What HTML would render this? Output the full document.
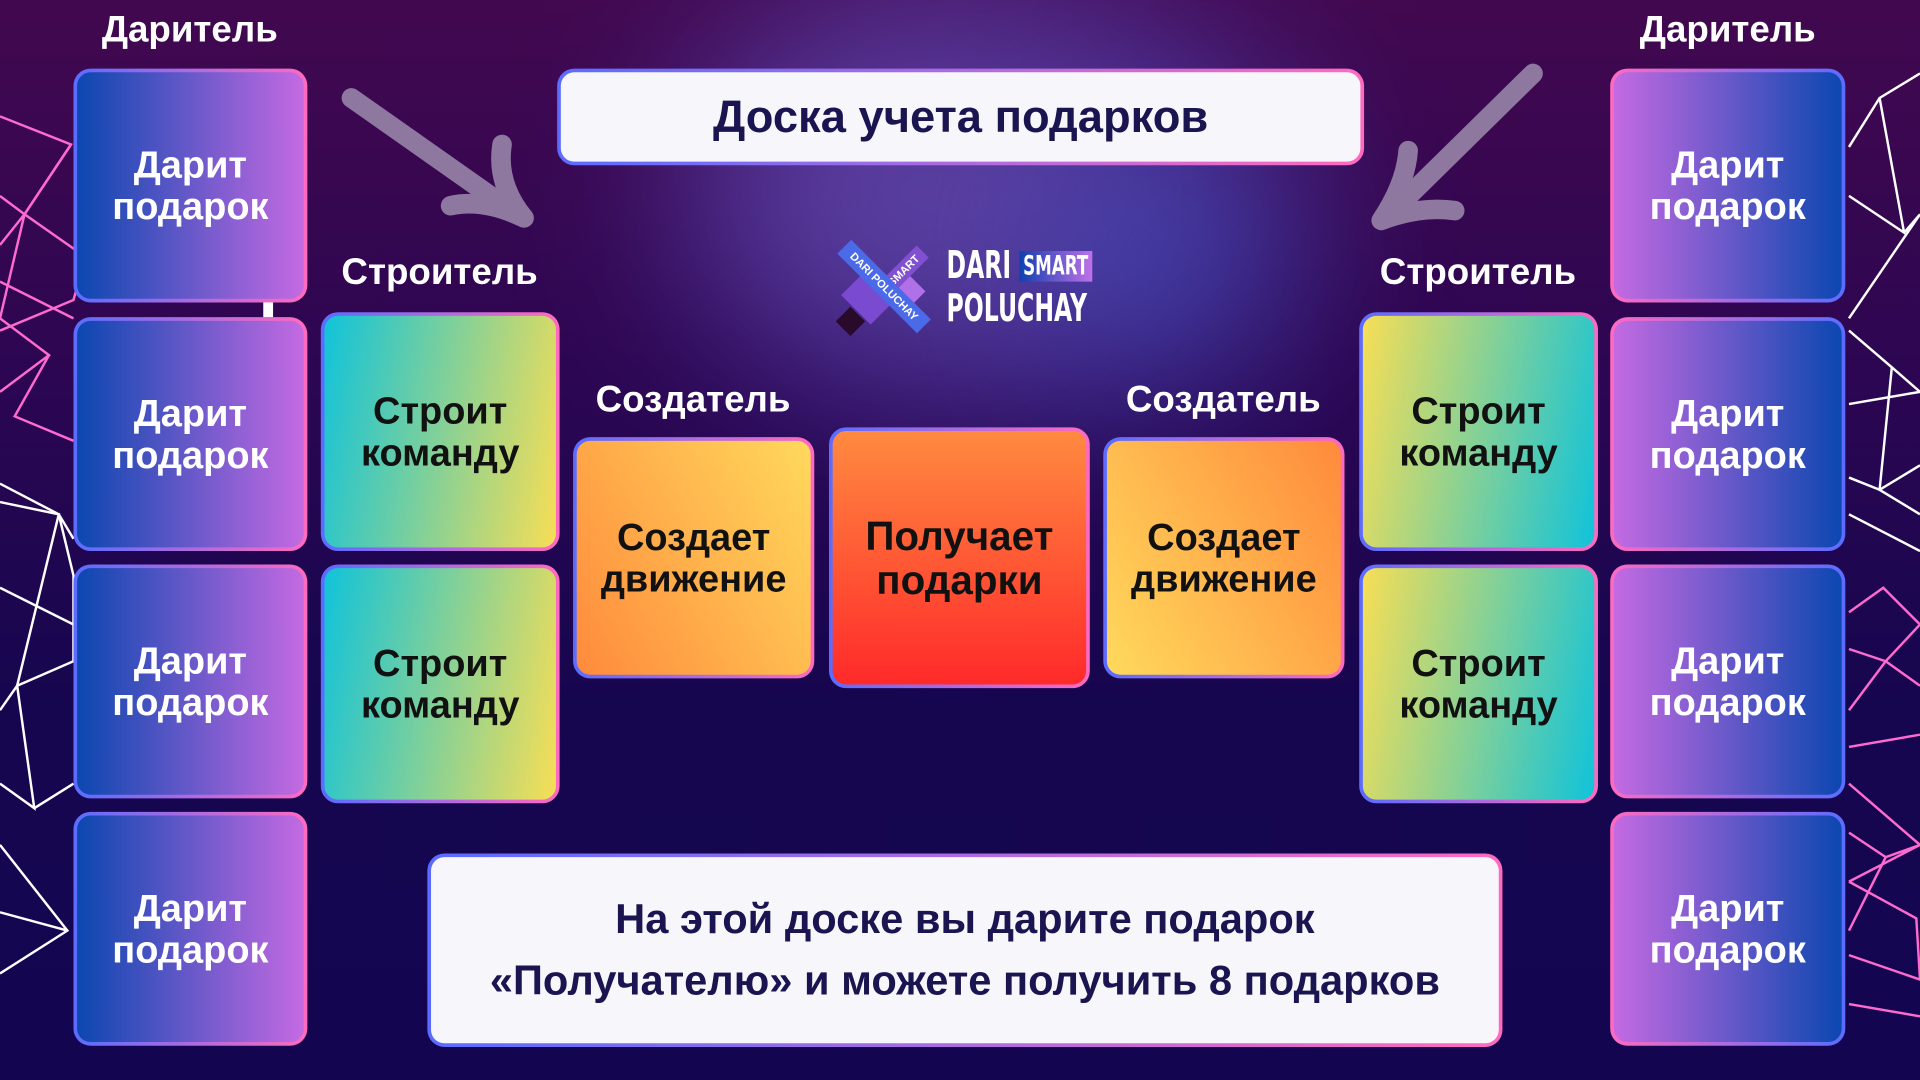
<!DOCTYPE html>
<html><head><meta charset="utf-8"><style>
html,body{margin:0;padding:0;width:1920px;height:1080px;overflow:hidden;background:#150650}
#w{position:absolute;left:0;top:0;width:1568px;height:882px;transform:scale(1.22449);transform-origin:0 0;
background:linear-gradient(180deg,#42084f 0%,#2c0652 35%,#16064f 65%,#130550 100%);font-family:"Liberation Sans",sans-serif;overflow:hidden}
.blob{position:absolute;border-radius:50%;filter:blur(70px)}
.b{position:absolute;box-sizing:border-box;border-radius:14px;padding:3px;}
.b>div{width:100%;height:100%;border-radius:11px;display:flex;align-items:center;justify-content:center;text-align:center;font-weight:bold;font-size:31px;line-height:34px}
.d1{background:linear-gradient(90deg,#5a6cff,#ff6ac0)}
.d1>div{background:linear-gradient(90deg,#0c47b0,#c46ae2);color:#fff}
.d2{background:linear-gradient(90deg,#ff6ac0,#5a6cff)}
.d2>div{background:linear-gradient(90deg,#c46ae2,#0c47b0);color:#fff}
.s1>div{background:linear-gradient(100deg,#10c3da,#f7de55);color:#111}
.s2>div{background:linear-gradient(100deg,#f7de55,#10c3da);color:#111}
.c1>div{background:linear-gradient(60deg,#ff8a3c,#ffd95c);color:#111}
.c2>div{background:linear-gradient(60deg,#ffd95c,#ff8a3c);color:#111}
.s1,.s2,.c1,.c2,.m{background:linear-gradient(90deg,#5a6cff,#ff6ac0)}
.m>div{background:linear-gradient(180deg,#ff8a40,#ff2a2a);color:#111;font-size:33px;line-height:36px}
.lab{position:absolute;color:#fff;font-weight:bold;font-size:30px;transform:translateX(-50%);white-space:nowrap}
.wb>div{background:#f6f6fb;color:#1a1450}
</style></head><body><div id="w">
<div class="blob" style="left:540px;top:-40px;width:520px;height:380px;background:#5a4ac0;opacity:.45"></div>
<div class="blob" style="left:600px;top:40px;width:320px;height:240px;background:#7a6ad0;opacity:.4"></div>
<div class="blob" style="left:850px;top:110px;width:200px;height:200px;background:#3a5ad0;opacity:.5"></div>
<svg style="position:absolute;left:0;top:0" width="1568" height="882" fill="none" stroke-width="2">
<g stroke="#ff6ad0"><polyline points="0,95 58,118 20,175 0,200"/><polyline points="58,118 20,175 0,160"/><polyline points="20,175 70,210 60,245 0,270"/><polyline points="20,175 0,260 40,290 0,320"/><polyline points="0,230 60,260"/><polyline points="40,290 12,340 60,360"/></g>
<g stroke="#fff"><polyline points="0,395 48,420 60,440"/><polyline points="0,410 48,420 14,560 0,580"/><polyline points="14,560 28,660 0,640"/><polyline points="14,560 60,540 60,470 48,420"/><polyline points="0,480 60,510"/><polyline points="28,660 60,640"/><polyline points="0,690 55,760 0,795"/><polyline points="0,745 55,760"/><polyline points="1510,120 1535,80 1568,60"/><polyline points="1535,80 1555,190 1510,160"/><polyline points="1555,190 1568,175 1510,260"/><polyline points="1510,270 1545,300 1568,320 1510,330"/><polyline points="1545,300 1535,400 1568,420"/><polyline points="1510,390 1535,400 1568,380"/><polyline points="1510,420 1568,450"/></g>
<g stroke="#ff6ad0"><polyline points="1510,500 1538,480 1568,510 1540,540 1510,530"/><polyline points="1540,540 1568,560"/><polyline points="1510,580 1540,540"/><polyline points="1510,610 1568,600"/><polyline points="1510,640 1568,690"/><polyline points="1510,680 1540,700 1568,690 1510,720"/><polyline points="1510,720 1565,750 1568,800 1510,780"/><polyline points="1540,700 1510,760"/><polyline points="1510,820 1568,830"/></g>
<g stroke="#8e78a0" stroke-width="16" stroke-linecap="round" stroke-linejoin="round"><line x1="287" y1="80" x2="422" y2="175"/><path d="M410 118 Q405 150 428 178 Q395 162 368 168"/><line x1="1252" y1="60" x2="1132" y2="178"/><path d="M1150 123 Q1148 150 1128 180 Q1160 168 1188 172"/></g>
</svg>
<div class="lab" style="left:155px;top:8px">Даритель</div>
<div class="lab" style="left:1411px;top:8px">Даритель</div>
<div class="lab" style="left:359px;top:206px">Строитель</div>
<div class="lab" style="left:1207px;top:206px">Строитель</div>
<div class="lab" style="left:566px;top:310px">Создатель</div>
<div class="lab" style="left:999px;top:310px">Создатель</div>
<div class="b d1" style="left:60px;top:56px;width:191px;height:191px"><div>Дарит<br>подарок</div></div>
<div class="b d1" style="left:60px;top:259px;width:191px;height:191px"><div>Дарит<br>подарок</div></div>
<div class="b d1" style="left:60px;top:461px;width:191px;height:191px"><div>Дарит<br>подарок</div></div>
<div class="b d1" style="left:60px;top:663px;width:191px;height:191px"><div>Дарит<br>подарок</div></div>
<div style="position:absolute;left:215px;top:247px;width:8px;height:12px;background:#fff"></div>
<div class="b d2" style="left:1315px;top:56px;width:192px;height:191px"><div>Дарит<br>подарок</div></div>
<div class="b d2" style="left:1315px;top:259px;width:192px;height:191px"><div>Дарит<br>подарок</div></div>
<div class="b d2" style="left:1315px;top:461px;width:192px;height:191px"><div>Дарит<br>подарок</div></div>
<div class="b d2" style="left:1315px;top:663px;width:192px;height:191px"><div>Дарит<br>подарок</div></div>
<div class="b s1" style="left:262px;top:255px;width:195px;height:195px"><div>Строит<br>команду</div></div>
<div class="b s1" style="left:262px;top:461px;width:195px;height:195px"><div>Строит<br>команду</div></div>
<div class="b s2" style="left:1110px;top:255px;width:195px;height:195px"><div>Строит<br>команду</div></div>
<div class="b s2" style="left:1110px;top:461px;width:195px;height:195px"><div>Строит<br>команду</div></div>
<div class="b c1" style="left:468px;top:357px;width:197px;height:197px"><div>Создает<br>движение</div></div>
<div class="b c2" style="left:901px;top:357px;width:197px;height:197px"><div>Создает<br>движение</div></div>
<div class="b m" style="left:677px;top:349px;width:213px;height:213px"><div>Получает<br>подарки</div></div>
<div class="b wb d1" style="left:455px;top:56px;width:659px;height:79px;padding:3px"><div style="font-size:37px">Доска учета подарков</div></div>
<div class="b wb d1" style="left:349px;top:697px;width:878px;height:158px"><div style="font-size:34px;line-height:50px">На этой доске вы дарите подарок<br>«Получателю» и можете получить 8 подарков</div></div>
<div style="position:absolute;left:682px;top:196px;width:80px;height:80px">
<div style="position:absolute;left:12px;top:28px;width:34px;height:34px;background:#7a4ad0;transform:rotate(45deg)"></div>
<div style="position:absolute;left:40px;top:28px;width:28px;height:28px;background:#b070e8;transform:rotate(45deg)"></div>
<div style="position:absolute;left:4px;top:58px;width:17px;height:17px;background:#2a0a2a;transform:rotate(45deg)"></div>
<div style="position:absolute;left:34px;top:18px;width:44px;height:14px;background:#8050d0;transform:rotate(-45deg);color:#fff;font-size:9px;font-weight:bold;text-align:center;line-height:14px">SMART</div>
<div style="position:absolute;left:-6px;top:30px;width:92px;height:16px;background:#4a6ae8;transform:rotate(45deg);color:#fff;font-size:9px;font-weight:bold;text-align:center;line-height:16px">DARI POLUCHAY</div>
</div>
<div style="position:absolute;left:773px;top:200px;color:#fff;font-weight:bold;font-family:'DejaVu Sans',sans-serif;font-size:31px;line-height:34px;transform:scaleX(.62);transform-origin:0 0">DARI <span style="background:linear-gradient(90deg,#1040b0,#c070e8);font-size:22px;padding:0 5px;vertical-align:3px">SMART</span><br>POLUCHAY</div>
</div></body></html>
